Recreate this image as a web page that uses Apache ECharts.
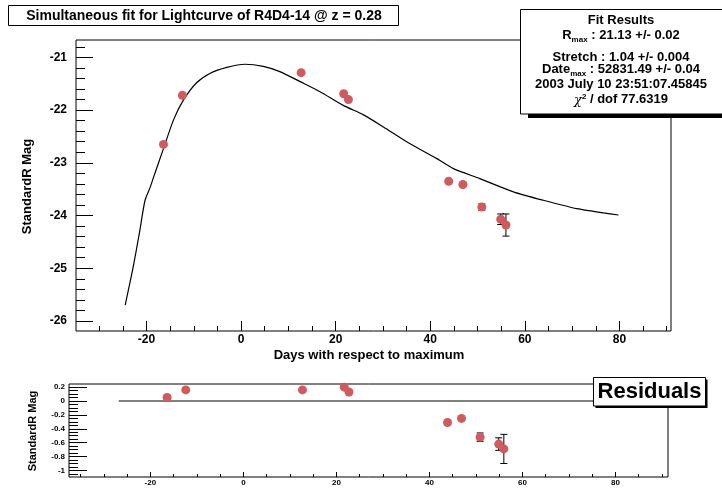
<!DOCTYPE html>
<html>
<head>
<meta charset="utf-8">
<script src="https://cdn.jsdelivr.net/npm/echarts@6/dist/echarts.min.js"></script>
<style>
html, body { margin: 0; padding: 0; background: #fff; }
#chart { width: 722px; height: 488px; }
</style>
</head>
<body>
<div id="chart"></div>
<script>
// measured points (days from max, StandardR mag, error)
var days = [-16.4, -12.4, 12.7, 21.7, 22.7, 43.9, 46.9, 50.9, 54.9, 56.0];
var mags = [-22.65, -21.72, -21.29, -21.69, -21.80, -23.35, -23.41, -23.84, -24.07, -24.18];
var magErrs = [0.02, 0.02, 0.02, 0.02, 0.02, 0.03, 0.03, 0.06, 0.1, 0.21];
var resids = [0.05, 0.16, 0.16, 0.20, 0.13, -0.31, -0.25, -0.52, -0.62, -0.69];
var residErrs = [0.02, 0.02, 0.02, 0.02, 0.02, 0.03, 0.03, 0.06, 0.09, 0.21];

// fitted lightcurve
var fitDays = [-24.5, -22.8, -21.4, -20.3, -19.2, -18.3, -16.4, -14.3, -12.2, -9.4, -6.5, -3, 0.8, 4.7, 8.2,
	12.5, 16.7, 21.6, 25.9, 30.1, 35, 41.4, 44.9, 50.5, 57.6, 63.9, 71, 76.6, 79.8];
var fitMags = [-25.70, -24.97, -24.28, -23.71, -23.46, -23.22, -22.73, -22.19, -21.81, -21.48, -21.30, -21.19, -21.13, -21.17, -21.27,
	-21.46, -21.65, -21.91, -22.09, -22.32, -22.60, -22.92, -23.11, -23.30, -23.55, -23.71, -23.87, -23.95, -23.99];
var zeroDays = [-26.8, 80];
var zeroVals = [0, 0];

// ticks
var xMajorTicks = [-20, 0, 20, 40, 60, 80];
var xMinorTicks = [-35, -30, -25, -15, -10, -5, 5, 10, 15, 25, 30, 35, 45, 50, 55, 65, 70, 75, 85, 90];
var magMajorTicks = [-26, -25, -24, -23, -22, -21];
var magMinorTicks = [-25.8, -25.6, -25.4, -25.2, -24.8, -24.6, -24.4, -24.2, -23.8, -23.6, -23.4, -23.2,
	-22.8, -22.6, -22.4, -22.2, -21.8, -21.6, -21.4, -21.2, -20.8];
var residMajorTicks = [-1, -0.8, -0.6, -0.4, -0.2, 0, 0.2];
var residMinorTicks = [-1.05, -0.95, -0.9, -0.85, -0.75, -0.7, -0.65, -0.55, -0.5, -0.45, -0.35, -0.3, -0.25,
	-0.15, -0.1, -0.05, 0.05, 0.1, 0.15];

var FONT = 'Liberation Sans';
var pointColor = '#d05b5e';

function zip3(a, b, c) {
	return a.map(function(v, i) {
		return c ? [v, b[i], c[i]] : [v, b[i]];
	});
}

function valueAxis(grid, min, max, ticks, len, label, extra) {
	var ax = {
		type: 'value',
		gridIndex: grid,
		min: min,
		max: max,
		axisLine: { show: false, onZero: false },
		splitLine: { show: false },
		axisTick: {
			show: true,
			inside: true,
			length: len,
			customValues: ticks,
			lineStyle: { color: '#000', width: 1 }
		},
		axisLabel: { show: false }
	};
	if (label) {
		ax.axisLabel = {
			show: true,
			customValues: ticks,
			color: '#000',
			fontFamily: FONT,
			fontWeight: 'bold',
			fontSize: label.size,
			margin: label.margin
		};
	}
	for (var k in extra) ax[k] = extra[k];
	return ax;
}

function errorItem(params, api) {
	var x = api.value(0), y = api.value(1), e = api.value(2);
	var hi = api.coord([x, y + e]);
	var lo = api.coord([x, y - e]);
	var w = 3.5;
	var st = { stroke: '#000', lineWidth: 1 };
	return {
		type: 'group',
		children: [
			{ type: 'line', shape: { x1: hi[0], y1: hi[1], x2: lo[0], y2: lo[1] }, style: st },
			{ type: 'line', shape: { x1: hi[0] - w, y1: hi[1], x2: hi[0] + w, y2: hi[1] }, style: st },
			{ type: 'line', shape: { x1: lo[0] - w, y1: lo[1], x2: lo[0] + w, y2: lo[1] }, style: st }
		]
	};
}

var myChart = echarts.init(document.getElementById('chart'));

function txt(x, y, text, rich, size) {
	return {
		type: 'text', x: x, y: y, z: 102,
		style: {
			text: text, rich: rich || {}, align: 'center', verticalAlign: 'middle',
			fontFamily: FONT, fontWeight: 'bold', fontSize: size || 13, fill: '#000'
		}
	};
}
var subRich = {
	b: { fontFamily: FONT, fontWeight: 'bold', fontSize: 13, lineHeight: 15, verticalAlign: 'top' },
	s: { fontFamily: FONT, fontWeight: 'bold', fontSize: 8, lineHeight: 8, padding: [8, 0, 0, 0] },
	p: { fontFamily: FONT, fontWeight: 'bold', fontSize: 8, lineHeight: 8, verticalAlign: 'top' },
	c: { fontFamily: 'DejaVu Serif', fontStyle: 'italic', fontSize: 13, lineHeight: 15, verticalAlign: 'bottom' }
};

var option = {
	backgroundColor: '#fff',
	animation: false,
	grid: [
		{ left: 76, top: 40, width: 595, height: 291, show: true, borderColor: '#000', borderWidth: 1, outerBoundsMode: 'none' },
		{ left: 69, top: 384, width: 599, height: 93, show: true, borderColor: '#000', borderWidth: 1, outerBoundsMode: 'none' }
	],
	xAxis: [
		valueAxis(0, -34.9, 90.9, xMajorTicks, 10, { size: 12, margin: 3 }, { position: 'bottom' }),
		valueAxis(0, -34.9, 90.9, xMinorTicks, 5, null, { position: 'bottom' }),
		valueAxis(1, -37.5, 91.3, xMajorTicks, 5, { size: 8, margin: 2 }, { position: 'bottom' }),
		valueAxis(1, -37.5, 91.3, xMinorTicks, 3, null, { position: 'bottom' })
	],
	yAxis: [
		valueAxis(0, -26.19, -20.67, magMajorTicks, 17, { size: 12, margin: 9 }, { position: 'left' }),
		valueAxis(0, -26.19, -20.67, magMinorTicks, 9, null, { position: 'left' }),
		valueAxis(1, -1.094, 0.245, residMajorTicks, 18, { size: 8, margin: 4 }, { position: 'left' }),
		valueAxis(1, -1.094, 0.245, residMinorTicks, 9, null, { position: 'left' })
	],
	series: [
		{
			type: 'line', xAxisIndex: 0, yAxisIndex: 0,
			data: zip3(fitDays, fitMags), showSymbol: false, smooth: 0.25,
			lineStyle: { color: '#000', width: 1.2 }, silent: true, z: 2
		},
		{
			type: 'custom', xAxisIndex: 0, yAxisIndex: 0,
			data: zip3(days, mags, magErrs), renderItem: errorItem,
			encode: { x: 0, y: 1 }, z: 3
		},
		{
			type: 'scatter', xAxisIndex: 0, yAxisIndex: 0,
			data: zip3(days, mags), symbolSize: 9,
			itemStyle: { color: pointColor, opacity: 1 }, z: 4
		},
		{
			type: 'line', xAxisIndex: 2, yAxisIndex: 2,
			data: zip3(zeroDays, zeroVals), showSymbol: false,
			lineStyle: { color: '#000', width: 1.2 }, silent: true, z: 2
		},
		{
			type: 'custom', xAxisIndex: 2, yAxisIndex: 2,
			data: zip3(days, resids, residErrs), renderItem: errorItem,
			encode: { x: 0, y: 1 }, z: 3
		},
		{
			type: 'scatter', xAxisIndex: 2, yAxisIndex: 2,
			data: zip3(days, resids), symbolSize: 9,
			itemStyle: { color: pointColor, opacity: 1 }, z: 4
		}
	],
	graphic: [
		// title
		{ type: 'rect', z: 100, shape: { x: 8.5, y: 5.5, width: 390, height: 20 }, style: { fill: '#fff', stroke: '#000', lineWidth: 1 } },
		txt(204, 16, 'Simultaneous fit for Lightcurve of R4D4-14 @ z = 0.28', null, 14),
		// fit results box
		{ type: 'rect', z: 100, shape: { x: 528, y: 114, width: 200, height: 4 }, style: { fill: '#000' } },
		{ type: 'rect', z: 101, shape: { x: 520.5, y: 9.5, width: 210, height: 104.5 }, style: { fill: '#fff', stroke: '#000', lineWidth: 1 } },
		txt(621, 20, 'Fit Results'),
		txt(621, 36, '{b|R}{s|max}{b| : 21.13 +/- 0.02}', subRich),
		txt(621, 57, 'Stretch : 1.04 +/- 0.004'),
		txt(621, 70, '{b|Date}{s|max}{b| : 52831.49 +/- 0.04}', subRich),
		txt(621, 84, '2003 July 10 23:51:07.45845'),
		txt(621, 100, '{c|χ}{p|2}{b| / dof 77.6319}', subRich),
		// residuals label
		{ type: 'rect', z: 100, shape: { x: 595.5, y: 379.5, width: 112, height: 28.5 }, style: { fill: '#000' } },
		{ type: 'rect', z: 101, shape: { x: 593.5, y: 377.5, width: 112, height: 28.5 }, style: { fill: '#fff', stroke: '#000', lineWidth: 1 } },
		txt(649.5, 392, 'Residuals', null, 22),
		// axis titles
		txt(369, 355, 'Days with respect to maximum'),
		{
			type: 'text', x: 27, y: 186.5, rotation: Math.PI / 2, z: 102,
			style: { text: 'StandardR Mag', align: 'center', verticalAlign: 'middle', fontFamily: FONT, fontWeight: 'bold', fontSize: 13, fill: '#000' }
		},
		{
			type: 'text', x: 33, y: 431, rotation: Math.PI / 2, z: 102,
			style: { text: 'StandardR Mag', align: 'center', verticalAlign: 'middle', fontFamily: FONT, fontWeight: 'bold', fontSize: 11, fill: '#000' }
		}
	]
};
myChart.setOption(option);
</script>
</body>
</html>
